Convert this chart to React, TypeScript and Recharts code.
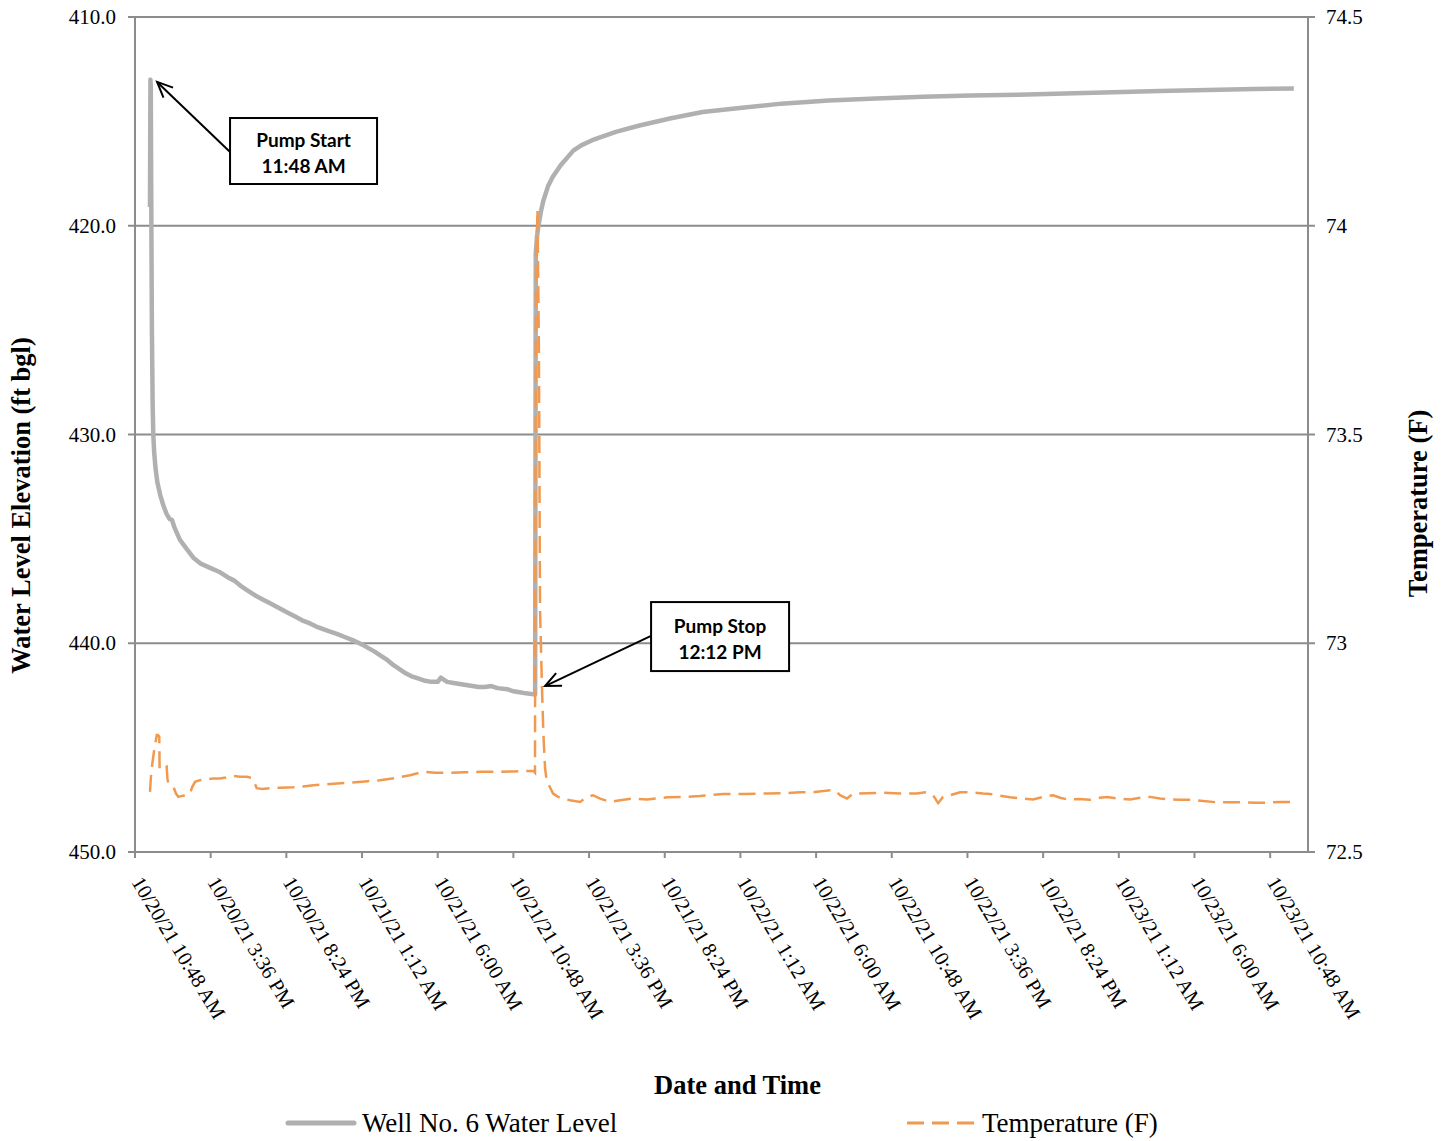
import React from 'react';
import {
  LineChart,
  Line,
  XAxis,
  YAxis,
  CartesianGrid,
  Legend,
  ReferenceLine,
  ReferenceDot,
} from 'recharts';

// Hours elapsed since 10/20/21 10:48 AM
const hourTicks = [0, 4.8, 9.6, 14.4, 19.2, 24, 28.8, 33.6, 38.4, 43.2, 48, 52.8, 57.6, 62.4, 67.2, 72];
const tickLabels = [
  '10/20/21 10:48 AM',
  '10/20/21 3:36 PM',
  '10/20/21 8:24 PM',
  '10/21/21 1:12 AM',
  '10/21/21 6:00 AM',
  '10/21/21 10:48 AM',
  '10/21/21 3:36 PM',
  '10/21/21 8:24 PM',
  '10/22/21 1:12 AM',
  '10/22/21 6:00 AM',
  '10/22/21 10:48 AM',
  '10/22/21 3:36 PM',
  '10/22/21 8:24 PM',
  '10/23/21 1:12 AM',
  '10/23/21 6:00 AM',
  '10/23/21 10:48 AM',
];
const levelTicks = [410, 420, 430, 440, 450];
const levelTickLabels = ['410.0', '420.0', '430.0', '440.0', '450.0'];
const tempTicks = [72.5, 73, 73.5, 74, 74.5];
const tempTickLabels = ['72.5', '73', '73.5', '74', '74.5'];

const levelName = 'Well No. 6 Water Level';
const tempName = 'Temperature (F)';

// Water level (ft bgl)
const levelHours = [
  0.95, 0.98, 1.0, 1.03, 1.07, 1.12, 1.16, 1.22, 1.3, 1.42, 1.6, 1.8, 2.0, 2.2, 2.35, 2.5, 2.85, 3.3,
  3.7, 4.2, 4.8, 5.4, 5.9, 6.3, 6.7, 7.1, 7.6, 8.1, 8.6, 9.1, 9.6, 10.1, 10.6, 11.1, 11.5, 12.2, 12.8,
  13.3, 13.8, 14.5, 15.2, 15.6, 16.0, 16.4, 16.8, 17.2, 17.6, 18.0, 18.4, 18.8, 19.2, 19.4, 19.6, 19.8,
  20.2, 20.6, 21.0, 21.4, 21.8, 22.2, 22.6, 23.0, 23.6, 24.0, 24.4, 24.8, 25.3, 25.38, 25.42, 25.5,
  25.58, 25.75, 25.9, 26.2, 26.5, 27.0, 27.8, 28.3, 29.0, 30.5, 32.0, 34.0, 36.0, 38.5, 41.0, 44.0,
  47.0, 50.0, 53.0, 56.0, 59.0, 62.0, 65.0, 68.0, 71.0, 73.5,
];
const levelValues = [
  419.1, 413.0, 413.3, 418.5, 424.8, 428.6, 430.0, 430.9, 431.6, 432.3, 432.9, 433.4, 433.8, 434.05,
  434.1, 434.45, 435.05, 435.5, 435.9, 436.2, 436.4, 436.6, 436.85, 437.0, 437.25, 437.45, 437.7,
  437.9, 438.1, 438.3, 438.5, 438.7, 438.9, 439.05, 439.2, 439.4, 439.55, 439.7, 439.85, 440.1, 440.4,
  440.6, 440.8, 441.05, 441.25, 441.45, 441.6, 441.7, 441.8, 441.85, 441.85, 441.65, 441.75, 441.85,
  441.9, 441.95, 442.0, 442.05, 442.1, 442.1, 442.05, 442.15, 442.2, 442.3, 442.35, 442.4, 442.45,
  442.45, 421.3, 420.5, 420.05, 419.3, 418.8, 418.1, 417.65, 417.1, 416.4, 416.15, 415.9, 415.5,
  415.2, 414.85, 414.55, 414.35, 414.15, 414.0, 413.9, 413.82, 413.76, 413.72, 413.66, 413.6, 413.55,
  413.5, 413.45, 413.42,
];

// Temperature (F)
const tempHours = [
  0.95, 1.01, 1.1, 1.2, 1.38, 1.46, 1.54, 1.56, 1.62, 1.8, 2.01, 2.06, 2.11, 2.43, 2.6, 2.75, 3.04,
  3.28, 3.49, 3.62, 3.81, 4.12, 4.55, 4.95, 5.39, 5.84, 6.24, 6.66, 7.09, 7.36, 7.5, 7.72, 8.06, 8.56,
  9.2, 10.04, 10.66, 11.31, 12.37, 13.64, 14.59, 15.54, 16.49, 17.44, 18.27, 19.03, 19.98, 20.93,
  21.88, 23.15, 24.1, 25.06, 25.28, 25.37, 25.39, 25.44, 25.53, 25.62, 25.69, 25.81, 25.9, 26.01,
  26.11, 26.32, 26.52, 26.83, 27.15, 27.59, 28.23, 28.67, 29.05, 29.5, 30.13, 30.77, 31.59, 32.48,
  33.75, 34.89, 35.84, 37.3, 38.69, 40.09, 41.23, 42.18, 43.13, 44.09, 44.47, 44.72, 45.16, 45.54,
  46.5, 47.45, 48.53, 49.6, 50.11, 50.62, 50.94, 51.25, 51.7, 52.33, 52.97, 53.79, 54.24, 54.68, 55.5,
  56.27, 56.96, 57.6, 58.23, 58.68, 59.12, 59.82, 60.58, 61.21, 61.66, 62.36, 63.12, 63.75, 64.38,
  65.02, 65.65, 66.29, 66.92, 67.75, 68.64, 69.46, 70.29, 71.05, 71.81, 72.63, 73.45,
];
const tempValues = [
  72.644, 72.68, 72.712, 72.74, 72.78, 72.78, 72.776, 72.7, 72.696, 72.7, 72.704, 72.675, 72.665,
  72.657, 72.64, 72.632, 72.635, 72.636, 72.64, 72.655, 72.668, 72.672, 72.674, 72.676, 72.676,
  72.679, 72.682, 72.68, 72.68, 72.678, 72.672, 72.653, 72.651, 72.653, 72.654, 72.655, 72.657, 72.66,
  72.663, 72.666, 72.669, 72.672, 72.677, 72.684, 72.692, 72.69, 72.69, 72.691, 72.692, 72.692,
  72.693, 72.694, 72.694, 72.69, 73.2, 73.9, 74.04, 73.7, 73.08, 72.9, 72.785, 72.7, 72.672, 72.655,
  72.64, 72.632, 72.628, 72.624, 72.62, 72.632, 72.636, 72.628, 72.62, 72.624, 72.628, 72.626,
  72.631, 72.632, 72.634, 72.639, 72.639, 72.64, 72.641, 72.643, 72.644, 72.648, 72.645, 72.636,
  72.628, 72.64, 72.641, 72.642, 72.64, 72.64, 72.643, 72.636, 72.617, 72.632, 72.636, 72.643,
  72.643, 72.64, 72.639, 72.636, 72.631, 72.628, 72.626, 72.632, 72.636, 72.63, 72.626, 72.627,
  72.625, 72.63, 72.632, 72.628, 72.626, 72.63, 72.632, 72.628, 72.626, 72.625, 72.625, 72.622,
  72.619, 72.619, 72.619, 72.618, 72.618, 72.62, 72.62,
];

const levelData = levelHours.map((h, i) => ({ h, level: levelValues[i] }));
const tempData = tempHours.map((h, i) => ({ h, temp: tempValues[i] }));

const GRAY_LINE = '#B0B0B0';
const ORANGE = '#F19A4F';
const AXIS = '#8C8C8C';
const SERIF = "'Liberation Serif', 'Times New Roman', serif";
const CALLOUT_FONT = "Lato, 'Open Sans', sans-serif";
const DASH = '17 8';

const serifStyle = { fontFamily: SERIF };

const findLabel = (ticks: number[], labels: string[], v: number) => {
  const idx = ticks.findIndex((t) => Math.abs(t - v) < 1e-6);
  return idx >= 0 ? labels[idx] : '';
};

const DateTick = (props: any) => {
  const { x, y, payload } = props;
  const label = findLabel(hourTicks, tickLabels, payload.value);
  const tx = x - 4;
  const ty = y + 22;
  return (
    <text
      x={tx}
      y={ty}
      transform={`rotate(59, ${tx}, ${ty})`}
      textAnchor="start"
      fontSize={20.5}
      style={serifStyle}
      fill="#000"
    >
      {label}
    </text>
  );
};

const LeftTick = (props: any) => {
  const { x, y, payload } = props;
  return (
    <text x={x} y={y} dy={7} textAnchor="end" fontSize={21} style={serifStyle} fill="#000">
      {findLabel(levelTicks, levelTickLabels, payload.value)}
    </text>
  );
};

const RightTick = (props: any) => {
  const { x, y, payload } = props;
  return (
    <text x={x} y={y} dy={7} textAnchor="start" fontSize={21} style={serifStyle} fill="#000">
      {findLabel(tempTicks, tempTickLabels, payload.value)}
    </text>
  );
};

const Arrow = (p: any) => {
  const { x1, y1, x2, y2 } = p;
  const ang = Math.atan2(y2 - y1, x2 - x1);
  const len = 17;
  const spread = 0.42;
  const ax = x2 - len * Math.cos(ang - spread);
  const ay = y2 - len * Math.sin(ang - spread);
  const bx = x2 - len * Math.cos(ang + spread);
  const by = y2 - len * Math.sin(ang + spread);
  return (
    <g>
      <line x1={x1} y1={y1} x2={x2} y2={y2} stroke="#000" strokeWidth={2} />
      <polyline
        points={`${ax},${ay} ${x2},${y2} ${bx},${by}`}
        fill="none"
        stroke="#000"
        strokeWidth={2}
      />
    </g>
  );
};

const makeCallout = (lines: string[], w: number, h: number) => (p: any) => {
  const { cx, cy } = p;
  const textStyle = { fontFamily: CALLOUT_FONT };
  return (
    <g>
      <rect x={cx - w / 2} y={cy - h / 2} width={w} height={h} fill="#fff" stroke="#000" strokeWidth={2} />
      <text x={cx} y={cy - 4} textAnchor="middle" fontWeight="bold" fontSize={19} style={textStyle} fill="#000">
        {lines[0]}
      </text>
      <text x={cx} y={cy + 22} textAnchor="middle" fontWeight="bold" fontSize={19} style={textStyle} fill="#000">
        {lines[1]}
      </text>
    </g>
  );
};

const LegendContent = () => (
  <svg width={1448} height={40} style={{ display: 'block' }}>
    <line x1={288} y1={20} x2={354} y2={20} stroke={GRAY_LINE} strokeWidth={5} strokeLinecap="round" />
    <text x={362} y={29} fontSize={27} style={serifStyle} fill="#000">
      {levelName}
    </text>
    <line x1={907} y1={20} x2={976} y2={20} stroke={ORANGE} strokeWidth={3} strokeDasharray={DASH} />
    <text x={982} y={29} fontSize={27} style={serifStyle} fill="#000">
      {tempName}
    </text>
  </svg>
);

const titleStyle = { fontSize: 26.5, fontWeight: 'bold', fill: '#000', fontFamily: SERIF };

export default function App() {
  return (
    <div style={{ position: 'absolute', left: 0, top: 0, width: 1448, height: 1141, background: '#fff' }}>
      <LineChart
        width={1448}
        height={1141}
        margin={{ top: 17, right: 0, bottom: 0, left: 0 }}
        style={{ fontFamily: SERIF }}
      >
        <CartesianGrid yAxisId="left" vertical={false} stroke={AXIS} strokeWidth={2} />
        <XAxis
          dataKey="h"
          type="number"
          domain={[0, 74.4]}
          ticks={hourTicks}
          interval={0}
          allowDataOverflow
          height={289}
          tick={<DateTick />}
          tickSize={6}
          axisLine={{ stroke: AXIS, strokeWidth: 2 }}
          tickLine={{ stroke: AXIS, strokeWidth: 2 }}
          label={{ value: 'Date and Time', position: 'center', dx: 16, dy: 88, style: titleStyle }}
        />
        <YAxis
          yAxisId="left"
          orientation="left"
          width={135}
          reversed
          domain={[410, 450]}
          ticks={levelTicks}
          interval={0}
          tick={<LeftTick />}
          tickSize={7}
          tickMargin={12}
          axisLine={{ stroke: AXIS, strokeWidth: 2 }}
          tickLine={{ stroke: AXIS, strokeWidth: 2 }}
          label={{
            value: 'Water Level Elevation (ft bgl)',
            angle: -90,
            position: 'center',
            dx: -47,
            dy: 71,
            style: titleStyle,
          }}
        />
        <YAxis
          yAxisId="right"
          orientation="right"
          width={140}
          domain={[72.5, 74.5]}
          ticks={tempTicks}
          interval={0}
          tick={<RightTick />}
          tickSize={7}
          tickMargin={11}
          axisLine={{ stroke: AXIS, strokeWidth: 2 }}
          tickLine={{ stroke: AXIS, strokeWidth: 2 }}
          label={{
            value: 'Temperature (F)',
            angle: -90,
            position: 'center',
            dx: 40,
            dy: 69,
            style: titleStyle,
          }}
        />
        <Line
          yAxisId="left"
          data={levelData}
          dataKey="level"
          name={levelName}
          type="linear"
          stroke={GRAY_LINE}
          strokeWidth={4.5}
          strokeLinejoin="round"
          dot={false}
          activeDot={false}
          isAnimationActive={false}
        />
        <Line
          yAxisId="right"
          data={tempData}
          dataKey="temp"
          name={tempName}
          type="linear"
          stroke={ORANGE}
          strokeWidth={2.5}
          strokeDasharray={DASH}
          dot={false}
          activeDot={false}
          isAnimationActive={false}
        />
        <ReferenceLine
          yAxisId="left"
          segment={[
            { x: 6.03, y: 416.47 },
            { x: 1.4, y: 413.11 },
          ]}
          shape={<Arrow />}
        />
        <ReferenceLine
          yAxisId="left"
          segment={[
            { x: 32.73, y: 439.65 },
            { x: 26.01, y: 442.05 },
          ]}
          shape={<Arrow />}
        />
        <ReferenceDot yAxisId="left" x={10.69} y={416.42} shape={makeCallout(['Pump Start', '11:48 AM'], 147, 66)} />
        <ReferenceDot yAxisId="left" x={37.11} y={439.68} shape={makeCallout(['Pump Stop', '12:12 PM'], 138, 69)} />
        <Legend
          layout="horizontal"
          verticalAlign="middle"
          align="center"
          width={1448}
          wrapperStyle={{ top: 1103, left: 0, width: 1448, height: 40 }}
          content={<LegendContent />}
        />
      </LineChart>
    </div>
  );
}
